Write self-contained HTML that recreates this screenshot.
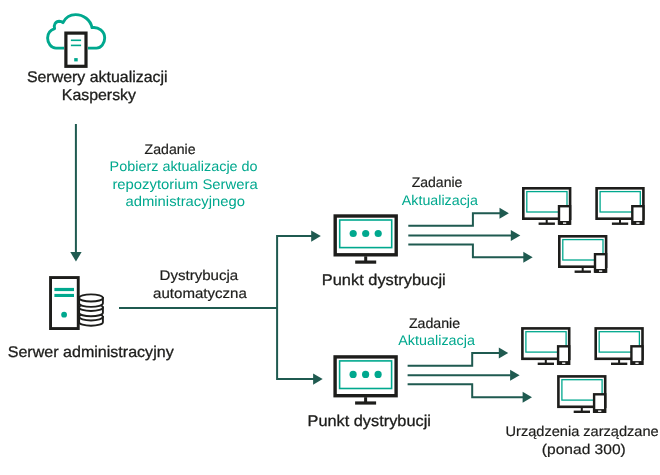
<!DOCTYPE html>
<html lang="pl">
<head>
<meta charset="utf-8">
<title>Diagram</title>
<style>
html,body{margin:0;padding:0;background:#fff;}
body{width:660px;height:475px;overflow:hidden;position:relative;font-family:"Liberation Sans",sans-serif;}
svg{position:absolute;left:0;top:0;display:block;will-change:transform;}
text{font-family:"Liberation Sans",sans-serif;font-size:16px;fill:#1d1d1b;text-rendering:geometricPrecision;stroke:#1d1d1b;stroke-width:0.3px;}
.n text{font-size:15.5px;}
.a text{font-size:14px;stroke-width:0.2px;}
text.g{fill:#00a88e;stroke:none;}
</style>
</head>
<body>
<svg width="660" height="475" viewBox="0 0 660 475">
<defs>
  <g id="mon">
    <!-- distribution point monitor, origin = top-left outer -->
    <rect x="1.7" y="1.7" width="61" height="38.8" fill="#fff" stroke="#1d1d1b" stroke-width="3.4"/>
    <rect x="6.2" y="5.7" width="52" height="27.6" fill="none" stroke="#00a88e" stroke-width="1.6"/>
    <circle cx="19.7" cy="19.2" r="3.6" fill="#00a88e"/>
    <circle cx="32.2" cy="19.2" r="3.6" fill="#00a88e"/>
    <circle cx="44.7" cy="19.2" r="3.6" fill="#00a88e"/>
    <rect x="30.7" y="42" width="3" height="5" fill="#1d1d1b"/>
    <rect x="21.7" y="46.2" width="21" height="3.2" fill="#1d1d1b"/>
  </g>
  <g id="dev">
    <!-- managed device, origin = top-left outer of monitor -->
    <rect x="1.3" y="1.3" width="46.8" height="30.4" fill="#fff" stroke="#1d1d1b" stroke-width="2.6"/>
    <rect x="4.8" y="4.6" width="40.2" height="20.4" fill="none" stroke="#00a88e" stroke-width="1.3"/>
    <rect x="23.7" y="32" width="2" height="4" fill="#1d1d1b"/>
    <rect x="16.6" y="35.5" width="16.3" height="2.4" fill="#1d1d1b"/>
    <rect x="37" y="19.2" width="11.1" height="17.5" fill="#fff" stroke="#1d1d1b" stroke-width="2.4"/>
    <rect x="37" y="34" width="11.1" height="3.9" fill="#1d1d1b"/>
    <rect x="41" y="35.4" width="3.2" height="1.4" fill="#fff"/>
  </g>
  <g id="devs">
    <use href="#dev" x="0" y="0"/>
    <use href="#dev" x="73.3" y="0"/>
    <use href="#dev" x="36" y="48"/>
  </g>
  <g id="arrows" fill="none" stroke="#1f5a50" stroke-width="2">
    <!-- origin: x=408.3 y=235.4 middle line -->
    <path d="M0,-9.6 H64.6 V-22.2 H92"/>
    <path d="M0,0 H103"/>
    <path d="M0,9 H64.6 V21.9 H116"/>
    <path d="M91.2,-27.7 L100.6,-22.2 L91.2,-16.7 Z" fill="#1f5a50" stroke="none"/>
    <path d="M102.5,-5.5 L112,0 L102.5,5.5 Z" fill="#1f5a50" stroke="none"/>
    <path d="M115,16.4 L124.4,21.9 L115,27.4 Z" fill="#1f5a50" stroke="none"/>
  </g>
</defs>

<!-- cloud -->
<path d="M64,48.1 H56 C51,48.1 47.6,43 47.6,38 C47.6,33.5 50.5,30 54.6,28.6 C53.5,25 55.5,21.3 59.2,21.2 C60.8,21.2 62,21.7 63,22.6 C65.5,17.5 70,14.6 75.6,14.6 C83.5,14.6 90.5,20 92,27.6 C98.5,26.5 104.7,31.5 104.7,38 C104.7,43.5 101,48.1 96.5,48.1 H88" fill="none" stroke="#00a88e" stroke-width="2.9" stroke-linejoin="round"/>
<!-- cloud server -->
<rect x="65.9" y="33.1" width="20.1" height="33.2" fill="#fff" stroke="#1d1d1b" stroke-width="3.2"/>
<rect x="70.9" y="39.5" width="10.2" height="1.6" fill="#00a88e"/>
<rect x="70.9" y="44.6" width="10.2" height="1.6" fill="#00a88e"/>
<rect x="74.2" y="58.1" width="3.5" height="3.3" fill="#00a88e"/>

<!-- vertical arrow -->
<rect x="74.9" y="124" width="2" height="130" fill="#1f5a50"/>
<path d="M70.3,252.1 H81.6 L75.95,261.4 Z" fill="#1f5a50"/>

<!-- db -->
<g fill="#fff" stroke="#1d1d1b" stroke-width="1.9">
  <path d="M79.1,316.85 v5.3 a11.9,3.6 0 0 0 23.8,0 v-5.3 Z"/>
  <ellipse cx="91" cy="316.85" rx="11.9" ry="3.6"/>
  <path d="M79.1,307.4 v5.3 a11.9,3.6 0 0 0 23.8,0 v-5.3 Z"/>
  <ellipse cx="91" cy="307.4" rx="11.9" ry="3.6"/>
  <path d="M79.1,297.95 v5.3 a11.9,3.6 0 0 0 23.8,0 v-5.3 Z"/>
  <ellipse cx="91" cy="297.95" rx="11.9" ry="3.6"/>
</g>
<!-- admin server -->
<rect x="50.55" y="277.55" width="27.7" height="51" fill="#fff" stroke="#1d1d1b" stroke-width="2.9"/>
<rect x="54.4" y="287.9" width="19.6" height="3.2" fill="#00a88e"/>
<rect x="54.4" y="293.9" width="19.6" height="3.1" fill="#00a88e"/>
<circle cx="64.1" cy="314.7" r="2.9" fill="#00a88e"/>

<!-- main connector -->
<path d="M119,308.1 H277.1 M312,236.1 H277.1 V379.1 H314" fill="none" stroke="#1f5a50" stroke-width="2"/>
<path d="M311.2,230.5 L320.8,236.1 L311.2,241.7 Z" fill="#1f5a50"/>
<path d="M313.1,373.5 L322.7,379.1 L313.1,384.7 Z" fill="#1f5a50"/>

<use href="#mon" x="333.5" y="214.3"/>
<use href="#mon" x="333.4" y="355.2"/>

<use href="#arrows" x="408.3" y="235.4"/>
<use href="#arrows" x="407.6" y="375.3"/>

<use href="#devs" x="522" y="187"/>
<use href="#devs" x="521.1" y="327.1"/>

<!-- labels -->
<g class="n">
<text x="26.9" y="82.2" textLength="140.7" lengthAdjust="spacingAndGlyphs">Serwery aktualizacji</text>
<text x="61.8" y="100.3" textLength="74.2" lengthAdjust="spacingAndGlyphs">Kaspersky</text>
<text x="7.7" y="357.2" textLength="166" lengthAdjust="spacingAndGlyphs">Serwer administracyjny</text>
<text x="321.8" y="284.7" textLength="123.9" lengthAdjust="spacingAndGlyphs">Punkt dystrybucji</text>
<text x="307.5" y="425.8" textLength="123.4" lengthAdjust="spacingAndGlyphs">Punkt dystrybucji</text>
</g>
<g class="a">
<text x="144.6" y="154.1" textLength="51" lengthAdjust="spacingAndGlyphs">Zadanie</text>
<text class="g" x="109.6" y="170.9" textLength="148" lengthAdjust="spacingAndGlyphs">Pobierz aktualizacje do</text>
<text class="g" x="112.4" y="189.2" textLength="145.3" lengthAdjust="spacingAndGlyphs">repozytorium Serwera</text>
<text class="g" x="125.5" y="206.4" textLength="119.4" lengthAdjust="spacingAndGlyphs">administracyjnego</text>
<text x="159.5" y="279.6" textLength="78.7" lengthAdjust="spacingAndGlyphs">Dystrybucja</text>
<text x="153.1" y="297.8" textLength="93.8" lengthAdjust="spacingAndGlyphs">automatyczna</text>
<text x="411.7" y="186.8" textLength="50.7" lengthAdjust="spacingAndGlyphs">Zadanie</text>
<text class="g" x="401.8" y="204.6" textLength="76.1" lengthAdjust="spacingAndGlyphs">Aktualizacja</text>
<text x="408.9" y="327.5" textLength="51.2" lengthAdjust="spacingAndGlyphs">Zadanie</text>
<text class="g" x="398.3" y="345.3" textLength="76.6" lengthAdjust="spacingAndGlyphs">Aktualizacja</text>
<text x="505.5" y="436.2" textLength="153.2" lengthAdjust="spacingAndGlyphs">Urządzenia zarządzane</text>
<text x="541.8" y="453.8" textLength="84" lengthAdjust="spacingAndGlyphs">(ponad 300)</text>
</g>
</svg>
</body>
</html>
